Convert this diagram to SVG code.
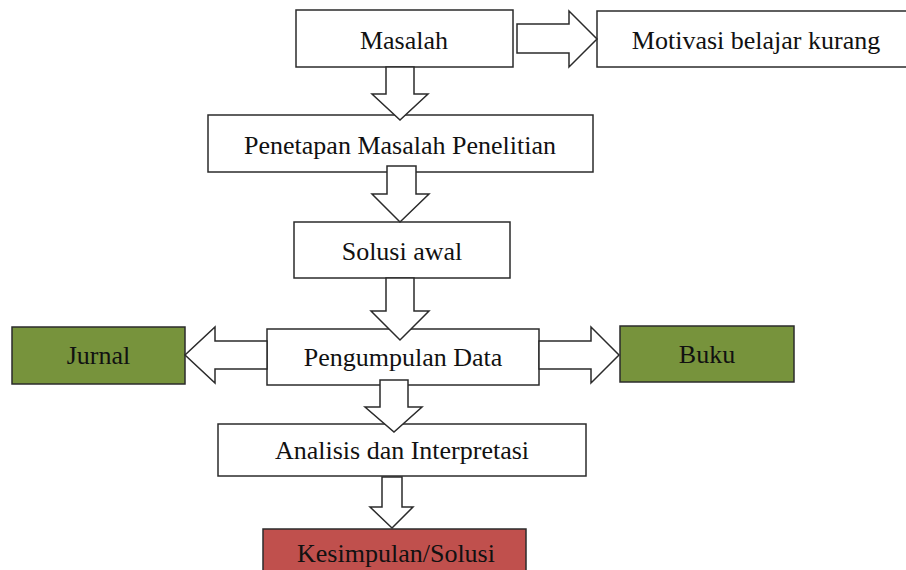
<svg xmlns="http://www.w3.org/2000/svg" width="906" height="570" viewBox="0 0 906 570">
<style>
.box{fill:#ffffff;stroke:#2b2b2b;stroke-width:1.5}
.green{fill:#77933c;stroke:#2b2b2b;stroke-width:1.5}
.red{fill:#c0504d;stroke:#2b2b2b;stroke-width:1.5}
.arr{fill:#ffffff;stroke:#2b2b2b;stroke-width:1.5;stroke-linejoin:miter}
text{font-family:"Liberation Serif","Times New Roman",serif;font-size:26px;fill:#111;text-anchor:middle}
</style>
<rect width="906" height="570" fill="#ffffff"/>
<g id="masalah"><rect class="box" x="296" y="10" width="217" height="57"/><text x="404" y="49">Masalah</text></g>
<g id="motivasi"><rect class="box" x="597" y="11" width="320" height="56"/><text x="756" y="49">Motivasi belajar kurang</text></g>
<g id="penetapan"><rect class="box" x="208" y="115" width="385" height="57"/><text x="400" y="154">Penetapan Masalah Penelitian</text></g>
<g id="solusi-awal"><rect class="box" x="294" y="222" width="216" height="56"/><text x="402" y="260">Solusi awal</text></g>
<g id="pengumpulan"><rect class="box" x="267" y="329" width="272" height="56"/><text x="403" y="366">Pengumpulan Data</text></g>
<g id="jurnal"><rect class="green" x="12" y="327" width="173" height="57"/><text x="98.5" y="364">Jurnal</text></g>
<g id="buku"><rect class="green" x="620" y="326" width="174" height="56"/><text x="707" y="363">Buku</text></g>
<g id="analisis"><rect class="box" x="218" y="424" width="368" height="52"/><text x="402" y="459">Analisis dan Interpretasi</text></g>
<g id="kesimpulan"><rect class="red" x="263" y="529" width="263" height="60"/><text x="396" y="562">Kesimpulan/Solusi</text></g>
<g id="connectors">
<polygon class="arr" points="517,24 569,24 569,11 597,39 569,67 569,53 517,53"/>
<polygon class="arr" points="386,67 414,67 414,94 428,94 400,120 372,94 386,94"/>
<polygon class="arr" points="387,166 416,166 416,194 429,194 400,222 372,194 387,194"/>
<polygon class="arr" points="386,278 414,278 414,311 429,311 400,340 371,311 386,311"/>
<polygon class="arr" points="267,341 215,341 215,327 185,355 215,383 215,369 267,369"/>
<polygon class="arr" points="539,341 591,341 591,327 619,355 591,383 591,369 539,369"/>
<polygon class="arr" points="380,380 408,380 408,407 422,407 394,432 365,407 380,407"/>
<polygon class="arr" points="382,477 402,477 402,507 413,507 392,528 370,507 382,507"/>
</g>
</svg>
